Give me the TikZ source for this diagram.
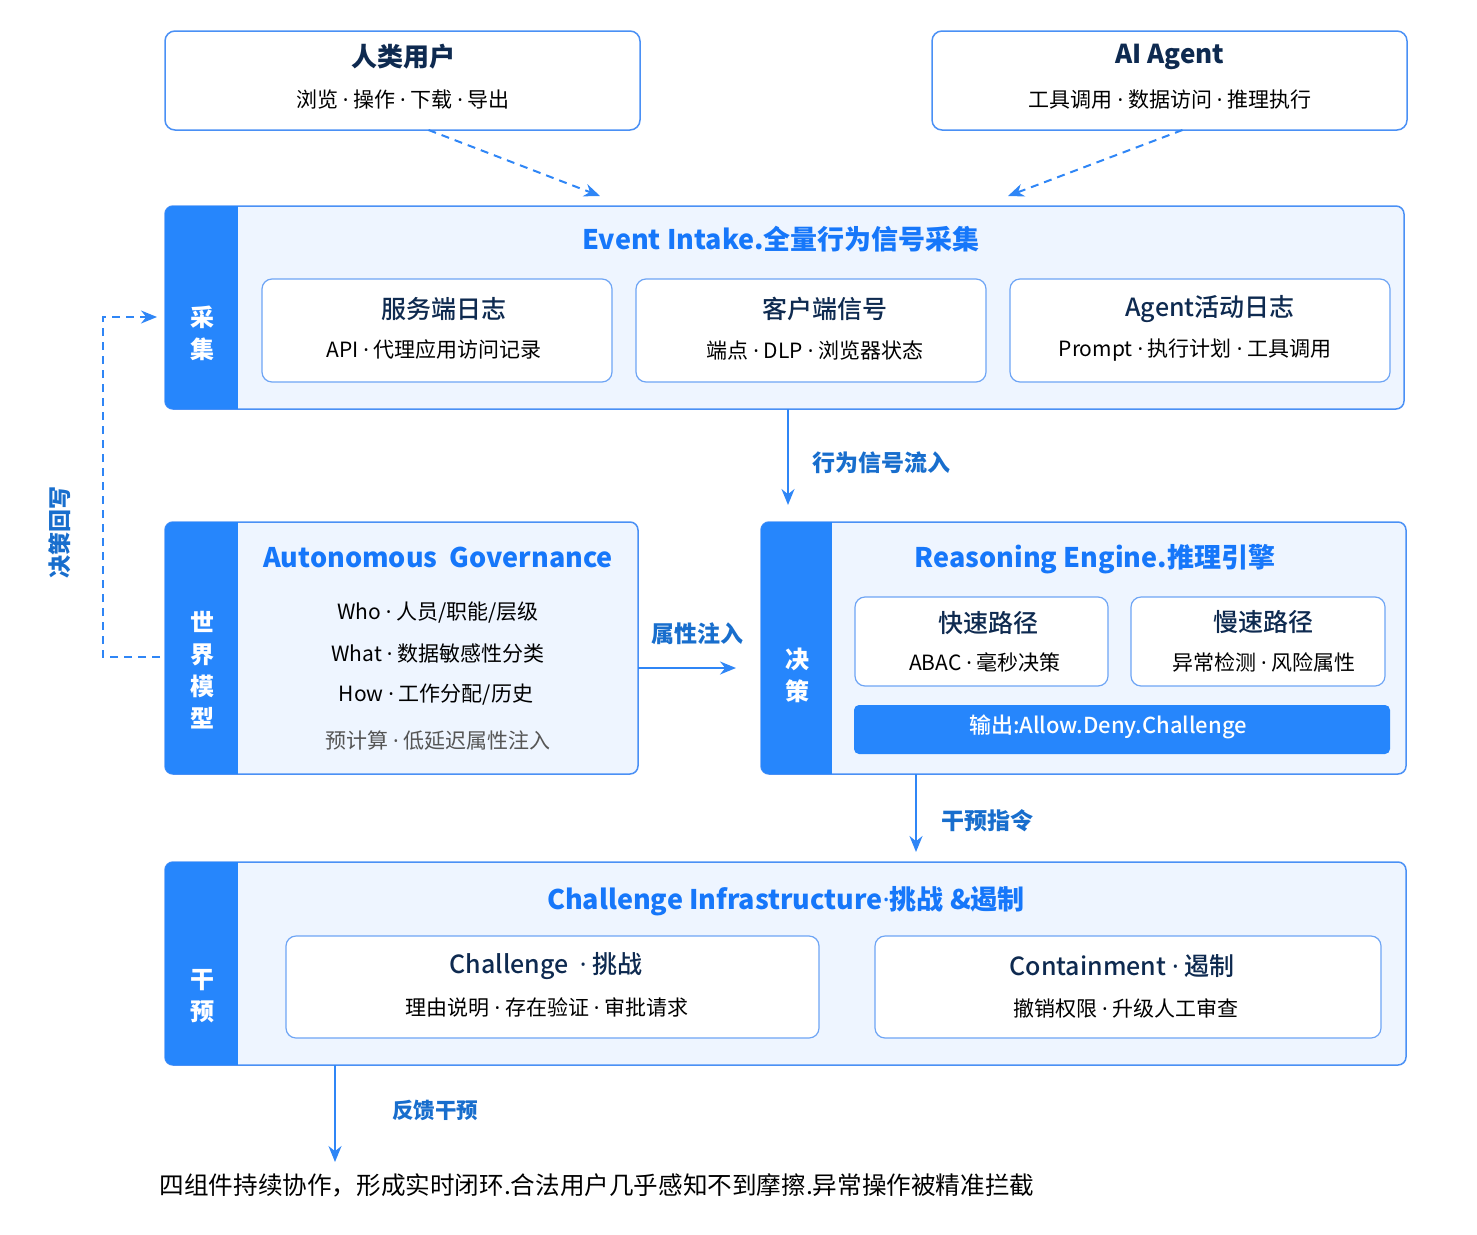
\documentclass[tikz,border=0pt]{standalone}
\usepackage{fontspec}
\setmainfont{Noto Sans CJK SC}
\newfontfamily\medfont{Noto Sans CJK SC Medium}
\newfontfamily\dotfont{Noto Sans}
\newcommand\mdot{\kern0.23em{\dotfont ·}\kern0.23em}
\usepackage{xcolor}
\usetikzlibrary{arrows.meta}

\definecolor{bandblue}{RGB}{38,134,252}
\definecolor{edgeblue}{RGB}{74,144,245}
\definecolor{cardedge}{RGB}{110,165,245}
\definecolor{panelfill}{RGB}{238,245,255}
\definecolor{titleblue}{RGB}{22,119,250}
\definecolor{navy}{RGB}{14,42,80}
\definecolor{arrowblue}{RGB}{47,134,246}
\definecolor{labelblue}{RGB}{24,110,205}
\definecolor{softgray}{RGB}{85,85,85}

\tikzset{
  panel/.style={draw=edgeblue, line width=1.5pt, fill=panelfill, rounded corners=8pt, anchor=north west, inner sep=0pt, outer sep=0pt},
  card/.style={draw=cardedge, line width=1.2pt, fill=white, rounded corners=10pt, anchor=north west, inner sep=0pt, outer sep=0pt},
  headtxt/.style={font=\fontsize{26}{30}\selectfont\bfseries, text=navy, inner sep=0pt},
  cardtitle/.style={font=\fontsize{25}{29}\selectfont\medfont, text=navy, inner sep=0pt},
  subtxt/.style={font=\fontsize{21}{24}\selectfont, text=black, inner sep=0pt},
  paneltitle/.style={font=\fontsize{27}{31}\selectfont\bfseries, text=titleblue, inner sep=0pt},
  bandtxt/.style={font=\fontsize{24}{32}\selectfont\bfseries, text=white, align=center, inner sep=0pt},
  flowlabel/.style={font=\fontsize{23}{27}\selectfont\bfseries, text=labelblue, inner sep=0pt},
  flow/.style={draw=arrowblue, line width=2pt, -{Stealth[length=16pt,width=13pt]}},
  dashflow/.style={flow, dash pattern=on 8pt off 6pt},
}

\begin{document}
\begin{tikzpicture}[x=1pt,y=1pt,yscale=-1]
\useasboundingbox (0,0) rectangle (1477,1234);

% sources
\node[card, line width=1.5pt, draw=edgeblue, minimum width=475, minimum height=99] (human) at (165,31) {};
\node[headtxt] (humantitle) at (403,57) {人类用户};
\node[subtxt] (humansub) at (403,100) {浏览\mdot 操作\mdot 下载\mdot 导出};
\node[card, line width=1.5pt, draw=edgeblue, minimum width=475, minimum height=99] (agent) at (932,31) {};
\node[headtxt] (agenttitle) at (1170,57) {AI Agent};
\node[subtxt] (agentsub) at (1170,100) {工具调用\mdot 数据访问\mdot 推理执行};

% event intake
\node[panel, minimum width=1239, minimum height=203] (intake) at (165,206) {};
\begin{scope}
  \clip[rounded corners=8pt] (intake.north west) rectangle (intake.south east);
  \fill[bandblue] (intake.north west) rectangle ([xshift=73pt]intake.south west);
\end{scope}
\node[bandtxt] (intakeband) at (202,333) {采\\集};
\node[paneltitle] (intaketitle) at (781,239) {Event Intake.全量行为信号采集};
\node[card, minimum width=350, minimum height=103] (server) at (262,279) {};
\node[cardtitle] (servertitle) at (444,309) {服务端日志};
\node[subtxt] (serversub) at (434,350) {API\mdot 代理应用访问记录};
\node[card, minimum width=350, minimum height=103] (client) at (636,279) {};
\node[cardtitle] (clienttitle) at (825,309) {客户端信号};
\node[subtxt] (clientsub) at (815,350) {端点\mdot DLP\mdot 浏览器状态};
\node[card, minimum width=380, minimum height=103] (agentlog) at (1010,279) {};
\node[cardtitle] (agentlogtitle) at (1210,309) {Agent活动日志};
\node[subtxt] (agentlogsub) at (1195,350) {Prompt\mdot 执行计划\mdot 工具调用};

% world model
\node[panel, minimum width=473, minimum height=252] (world) at (165,522) {};
\begin{scope}
  \clip[rounded corners=8pt] (world.north west) rectangle (world.south east);
  \fill[bandblue] (world.north west) rectangle ([xshift=73pt]world.south west);
\end{scope}
\node[bandtxt] (worldband) at (202,670) {世\\界\\模\\型};
\node[paneltitle] (worldtitle) at (438,557) {Autonomous\ \ Governance};
\node[subtxt] (who) at (438,613) {Who\mdot 人员/职能/层级};
\node[subtxt] (what) at (438,654) {What\mdot 数据敏感性分类};
\node[subtxt] (how) at (436,695) {How\mdot 工作分配/历史};
\node[subtxt, text=softgray] (precalc) at (438,741) {预计算\mdot 低延迟属性注入};

% reasoning engine
\node[panel, minimum width=645, minimum height=252] (decide) at (761,522) {};
\begin{scope}
  \clip[rounded corners=8pt] (decide.north west) rectangle (decide.south east);
  \fill[bandblue] (decide.north west) rectangle ([xshift=71pt]decide.south west);
\end{scope}
\node[bandtxt] (decideband) at (797,675) {决\\策};
\node[paneltitle] (decidetitle) at (1095,559) {Reasoning Engine.推理引擎};
\node[card, minimum width=253, minimum height=89] (fast) at (855,597) {};
\node[cardtitle] (fasttitle) at (988,623) {快速路径};
\node[subtxt] (fastsub) at (985,662) {ABAC\mdot 毫秒决策};
\node[card, minimum width=254, minimum height=89] (slow) at (1131,597) {};
\node[cardtitle] (slowtitle) at (1263,622) {慢速路径};
\node[subtxt] (slowsub) at (1264,662) {异常检测\mdot 风险属性};
\node[card, draw=none, fill=bandblue, rounded corners=5pt, minimum width=536, minimum height=49] (verdict) at (854,705) {};
\node[subtxt, text=white, font=\fontsize{22}{26}\selectfont\medfont] (verdicttxt) at (1108,727) {输出:Allow.Deny.Challenge};

% challenge infrastructure
\node[panel, minimum width=1241, minimum height=203] (challenge) at (165,862) {};
\begin{scope}
  \clip[rounded corners=8pt] (challenge.north west) rectangle (challenge.south east);
  \fill[bandblue] (challenge.north west) rectangle ([xshift=73pt]challenge.south west);
\end{scope}
\node[bandtxt] (challengeband) at (202,996) {干\\预};
\node[paneltitle] (challengetitle) at (786,901) {Challenge Infrastructure{\dotfont ·}挑战 \&遏制};
\node[card, minimum width=533, minimum height=102] (chal) at (286,936) {};
\node[cardtitle] (chaltitle) at (546,966) {Challenge \mdot 挑战};
\node[subtxt] (chalsub) at (547,1008) {理由说明\mdot 存在验证\mdot 审批请求};
\node[card, minimum width=506, minimum height=102] (contain) at (875,936) {};
\node[cardtitle] (containtitle) at (1122,966) {Containment\mdot 遏制};
\node[subtxt] (containsub) at (1126,1008) {撤销权限\mdot 升级人工审查};

% summary
\node[subtxt, font=\fontsize{24.6}{28}\selectfont] (summary) at (597,1185) {四组件持续协作，形成实时闭环.合法用户几乎感知不到摩擦.异常操作被精准拦截};

% connectors
\coordinate (intakein1) at (600,196);
\coordinate (intakein2) at (1008,196);
\coordinate (decidein) at (788,505);
\coordinate (worldout) at (736,668);
\coordinate (challengein) at (916,852);
\coordinate (summaryin) at (335,1162);
\coordinate (loopturn) at (103,657);
\coordinate (loopend) at (157,317);

\draw[dashflow] ([xshift=26pt]human.south) -- (intakein1);
\draw[dashflow] ([xshift=13pt]agent.south) -- (intakein2);
\draw[flow] ([xshift=3.5pt]intake.south) -- (decidein);
\draw[flow] (world.east |- worldout) -- (worldout);
\draw[flow] (decide.south -| challengein) -- (challengein);
\draw[flow] (challenge.south -| summaryin) -- (summaryin);
\draw[dashflow] ([xshift=-5pt]world.west |- loopturn) -- (loopturn) |- (loopend);

\node[flowlabel] (flowinlabel) at (881,463) {行为信号流入};
\node[flowlabel] (injectlabel) at (697,634) {属性注入};
\node[flowlabel] (orderlabel) at (987,821) {干预指令};
\node[flowlabel, font=\fontsize{21.5}{25}\selectfont\bfseries] (feedbacklabel) at (435,1110) {反馈干预};
\node[flowlabel, rotate=90] (writebacklabel) at (60,532) {决策回写};
\end{tikzpicture}
\end{document}
